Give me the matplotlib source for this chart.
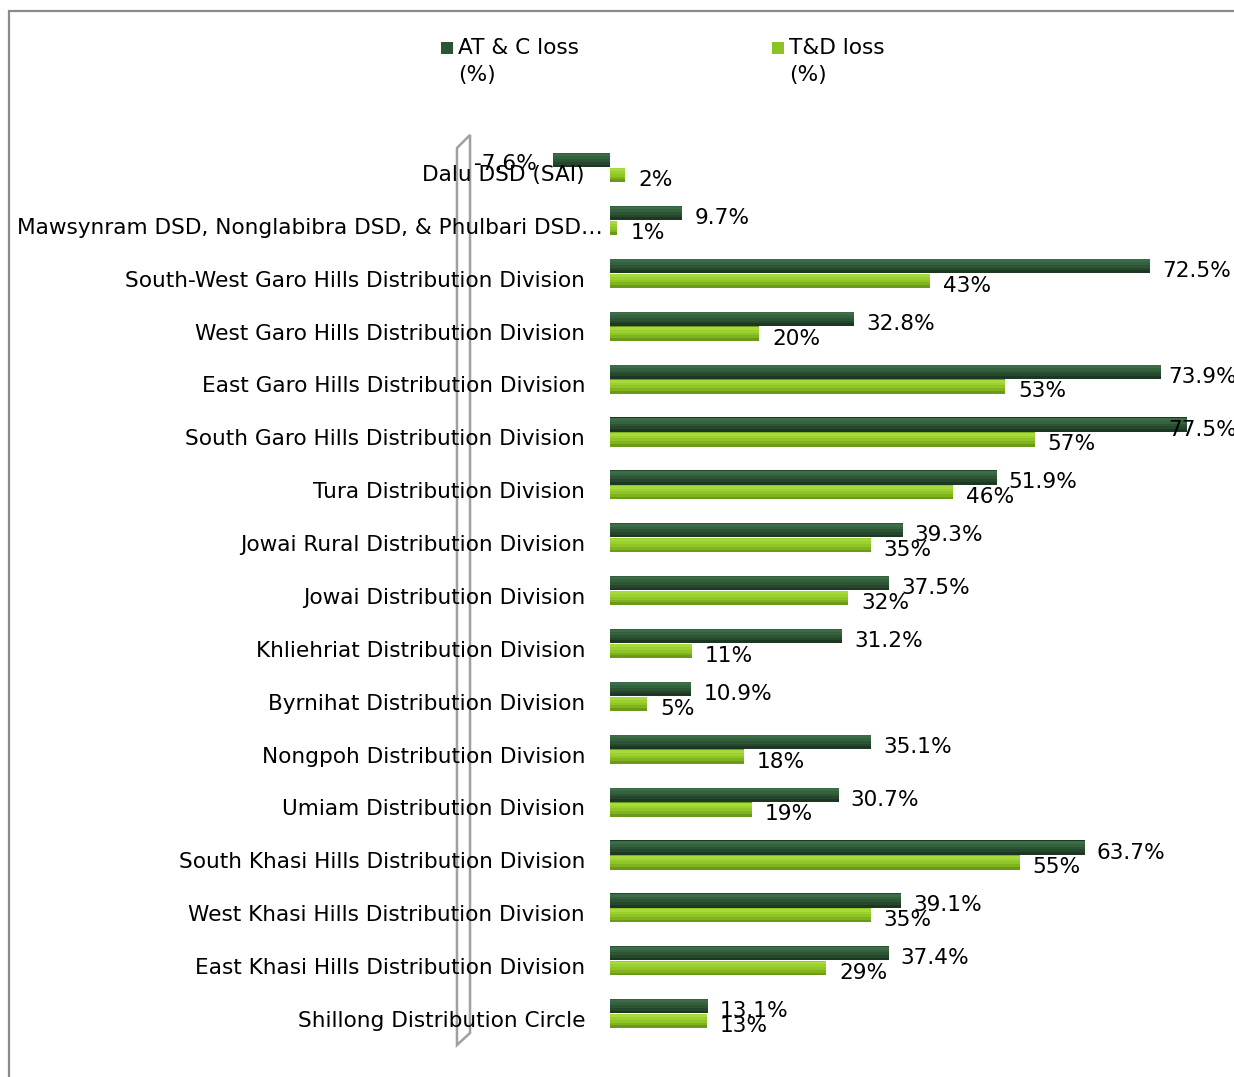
import matplotlib
matplotlib.use("Agg")
import matplotlib.pyplot as plt
from matplotlib.patches import Rectangle, Polygon
import numpy as np

categories = [
    "Dalu DSD (SAI)",
    "Mawsynram DSD, Nonglabibra DSD, & Phulbari DSD\u2026",
    "South-West Garo Hills Distribution Division",
    "West Garo Hills Distribution Division",
    "East Garo Hills Distribution Division",
    "South Garo Hills Distribution Division",
    "Tura Distribution Division",
    "Jowai Rural Distribution Division",
    "Jowai Distribution Division",
    "Khliehriat Distribution Division",
    "Byrnihat Distribution Division",
    "Nongpoh Distribution Division",
    "Umiam Distribution Division",
    "South Khasi Hills Distribution Division",
    "West Khasi Hills Distribution Division",
    "East Khasi Hills Distribution Division",
    "Shillong Distribution Circle",
]
atc_loss = [-7.6, 9.7, 72.5, 32.8, 73.9, 77.5, 51.9, 39.3, 37.5, 31.2, 10.9, 35.1, 30.7, 63.7, 39.1, 37.4, 13.1]
td_loss = [2, 1, 43, 20, 53, 57, 46, 35, 32, 11, 5, 18, 19, 55, 35, 29, 13]
atc_labels = ["-7.6%", "9.7%", "72.5%", "32.8%", "73.9%", "77.5%", "51.9%", "39.3%", "37.5%",
              "31.2%", "10.9%", "35.1%", "30.7%", "63.7%", "39.1%", "37.4%", "13.1%"]
td_labels = [f"{v}%" for v in td_loss]
series_names = ["AT & C loss\n(%)", "T&D loss\n(%)"]

DARK_SHADES = ["#1c3722", "#25482d", "#2d5535", "#35623e", "#3d6d47"]
LIGHT_SHADES = ["#6a9a18", "#80b41f", "#8fc526", "#9bd02f", "#a8da3e"]
DARK = "#2d5535"
LIGHT = "#8cc425"

W, H = 1234, 1077
fig = plt.figure(figsize=(W / 100, H / 100), dpi=100)
FS = 15.6

ax_left, ax_right = 461, 1206
ax_top, ax_bottom = 135, 1045
ax = fig.add_axes([ax_left / W, 1 - ax_bottom / H, (ax_right - ax_left) / W, (ax_bottom - ax_top) / H])
ax.set_xlim(-20, 80)
ax.set_ylim(16.454, -0.7565)
ax.axis("off")

y = np.arange(len(categories))
h = 0.27
y_dark = y - 0.28
y_light = y


def cylinder_bars(ypos, vals, shades):
    n = len(shades)
    for k, col in enumerate(shades):
        frac = 1 - k / n
        hh = h * frac
        shift = -(h - hh) / 2 * 0.9  # shift lighter strips upward (y inverted)
        ax.barh(ypos + shift, vals, height=hh, color=col, linewidth=0, zorder=3 + k * 0.01)


cylinder_bars(y_dark, atc_loss, DARK_SHADES)
cylinder_bars(y_light, td_loss, LIGHT_SHADES)

# value labels (clamped to stay inside chart, as in the original)
x_limit_px = 1168
fig.canvas.draw()


def label_offset(v, base):
    px = ax.transData.transform((v, 0))[0]
    return min(base, x_limit_px - px)


for yi, v, lab in zip(y_dark, atc_loss, atc_labels):
    if v >= 0:
        ax.annotate(lab, xy=(v, yi), xytext=(label_offset(v, 12), -5), textcoords="offset pixels",
                    ha="left", va="center", fontsize=FS, color="black", zorder=6,
                    annotation_clip=False)
    else:
        ax.annotate(lab, xy=(v, yi), xytext=(-17, -4), textcoords="offset pixels",
                    ha="right", va="center", fontsize=FS, color="black", zorder=6)
for yi, v, lab in zip(y_light, td_loss, td_labels):
    ax.annotate(lab, xy=(v, yi), xytext=(label_offset(v, 13), -5), textcoords="offset pixels",
                ha="left", va="center", fontsize=FS, color="black", zorder=6)

# category labels
for i, c in enumerate(categories):
    dx = -7 if c.endswith("\u2026") else -25
    ax.annotate(c, xy=(0, i), xytext=(dx, 0), textcoords="offset pixels",
                ha="right", va="center", fontsize=FS, color="black", zorder=6,
                annotation_clip=False)

# 3D wall at axis minimum
wall = Polygon([(-0.0054, 0), (-0.0054, 0.9857), (0.0121, 1.0), (0.0121, 0.0132)],
               closed=True, fill=False, edgecolor="#a0a0a0", linewidth=1.8,
               transform=ax.transAxes, clip_on=False, zorder=1)
ax.add_patch(wall)

# legend (manual)
for (sx, tx), col, name in zip([(441, 458), (772, 789)], [DARK, LIGHT], series_names):
    fig.patches.append(Rectangle((sx / W, 1 - 54 / H), 12 / W, 12 / H, transform=fig.transFigure,
                                 facecolor=col, edgecolor="none"))
    fig.text(tx / W, 1 - 38 / H, name, ha="left", va="top", fontsize=FS, color="black",
             linespacing=1.45)

# chart border
fig.patches.append(Rectangle((9 / W, -0.1), 1.2, 1.1 - 11 / H, transform=fig.transFigure,
                             fill=False, edgecolor="#8a8a8a", linewidth=1.6))

fig.savefig("out.png", dpi=100)
